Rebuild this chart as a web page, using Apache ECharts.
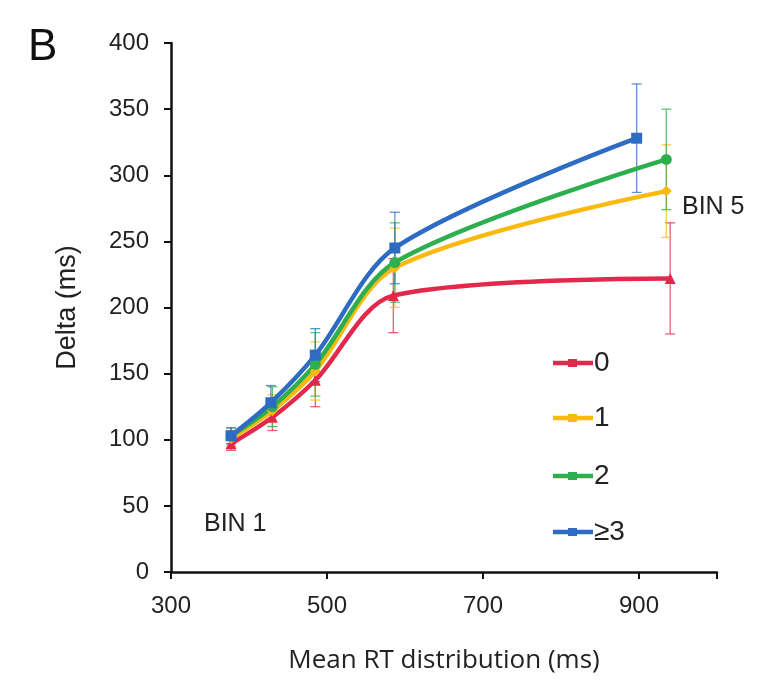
<!DOCTYPE html>
<html><head><meta charset="utf-8">
<script src="https://cdn.jsdelivr.net/npm/echarts@6/dist/echarts.min.js"></script>
<style>html,body{margin:0;padding:0;background:#fff}#c{width:774px;height:691px}</style>
</head><body><div id="c"></div>
<script>
var seriesNames = ['0', '1', '2', '\u22653'];
var xValues = [
  [377, 430, 485, 585, 940],
  [377, 430, 485, 587, 935],
  [377, 430, 485, 587, 935],
  [377, 428, 485, 587, 897]
];
var yValues = [
  [97, 117, 145, 209, 222],
  [101, 122, 152, 230, 288],
  [103, 125, 157, 234, 312],
  [103, 128, 164, 245, 328]
];
var yErrors = [
  [5, 10, 20, 28, 42],
  [6, 12, 22, 30, 35],
  [6, 15, 24, 30, 38],
  [6, 13, 20, 27, 41]
];
var xTicks = [300, 500, 700, 900];
var yTicks = [0, 50, 100, 150, 200, 250, 300, 350, 400];

var colors = ['#E2294C', '#F9B90F', '#2EAF4F', '#2E6CC4'];
var symbols = ['triangle', 'diamond', 'circle', 'rect'];
var font = 'Liberation Sans, Arial, sans-serif';

var chart = echarts.init(document.getElementById('c'));
var series = [];
seriesNames.forEach(function (name, i) {
  var errData = xValues[i].map(function (x, j) {
    return [x, yValues[i][j] - yErrors[i][j], yValues[i][j] + yErrors[i][j]];
  });
  series.push({
    type: 'custom',
    name: name + '_err',
    data: errData,
    z: 1,
    renderItem: function (params, api) {
      var x = api.value(0);
      var lo = api.coord([x, api.value(1)]);
      var hi = api.coord([x, api.value(2)]);
      var w = 5;
      var st = { stroke: colors[i], lineWidth: 1.3, opacity: 0.75 };
      return {
        type: 'group',
        children: [
          { type: 'line', shape: { x1: lo[0], y1: lo[1], x2: hi[0], y2: hi[1] }, style: st },
          { type: 'line', shape: { x1: lo[0] - w, y1: lo[1], x2: lo[0] + w, y2: lo[1] }, style: st },
          { type: 'line', shape: { x1: hi[0] - w, y1: hi[1], x2: hi[0] + w, y2: hi[1] }, style: st }
        ]
      };
    }
  });
  series.push({
    type: 'line',
    name: name,
    data: xValues[i].map(function (x, j) { return [x, yValues[i][j]]; }),
    smooth: 0.3,
    symbol: symbols[i],
    symbolSize: 11,
    z: 3,
    lineStyle: { color: colors[i], width: 4.5 },
    itemStyle: { color: colors[i] }
  });
});

var legendGraphics = [];
var legendY = [363, 418, 476, 532];
seriesNames.forEach(function (name, i) {
  legendGraphics.push({
    type: 'line', shape: { x1: 553, y1: legendY[i], x2: 593, y2: legendY[i] },
    style: { stroke: colors[i], lineWidth: 4.5 }
  });
  legendGraphics.push({
    type: 'rect', shape: { x: 568, y: legendY[i] - 4, width: 9, height: 8 },
    style: { fill: colors[i] }
  });
  legendGraphics.push({
    type: 'text', x: 594, y: legendY[i],
    style: { text: name, font: '28px ' + font, fill: '#222', verticalAlign: 'middle' }
  });
});
legendGraphics.push({ type: 'text', x: 28, y: 48, style: { text: 'B', font: '44px ' + font, fill: '#111', verticalAlign: 'middle' } });
legendGraphics.push({ type: 'text', x: 204, y: 524, style: { text: 'BIN 1', font: '25px ' + font, fill: '#222', verticalAlign: 'middle' } });
legendGraphics.push({ type: 'text', x: 682, y: 207, style: { text: 'BIN 5', font: '25px ' + font, fill: '#222', verticalAlign: 'middle' } });

chart.setOption({
  animation: false,
  backgroundColor: '#fff',
  grid: { left: 171, right: 57, top: 43, bottom: 119, containLabel: false },
  xAxis: {
    type: 'value', min: 300, max: 1000, interval: 200,
    axisLine: { lineStyle: { color: '#111', width: 2.5 } },
    axisTick: { show: true, length: 7, lineStyle: { color: '#111', width: 2 } },
    axisLabel: {
      color: '#222', fontSize: 24, fontFamily: font, margin: 22,
      formatter: function (v) { return xTicks.indexOf(v) >= 0 ? String(v) : ''; }
    },
    splitLine: { show: false },
    name: 'Mean RT distribution (ms)', nameLocation: 'middle', nameGap: 76,
    nameTextStyle: { color: '#222', fontSize: 26, fontFamily: 'Open Sans, ' + font }
  },
  yAxis: {
    type: 'value', min: 0, max: 400, interval: 50,
    axisLine: { show: true, lineStyle: { color: '#111', width: 2.5 } },
    axisTick: { show: true, length: 7, lineStyle: { color: '#111', width: 2 } },
    axisLabel: {
      color: '#222', fontSize: 24, fontFamily: font, margin: 22,
      formatter: function (v) { return yTicks.indexOf(v) >= 0 ? String(v) : ''; }
    },
    splitLine: { show: false },
    name: 'Delta (ms)', nameLocation: 'middle', nameGap: 90, nameRotate: 90,
    nameTextStyle: { color: '#222', fontSize: 27, fontFamily: font }
  },
  graphic: legendGraphics,
  series: series
});
</script></body></html>
